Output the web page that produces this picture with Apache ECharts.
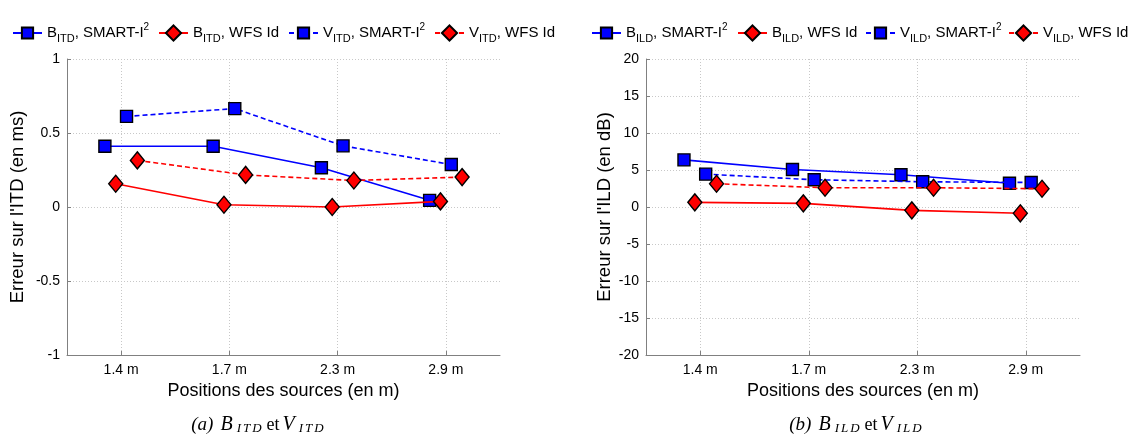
<!DOCTYPE html>
<html><head><meta charset="utf-8">
<script src="https://cdn.jsdelivr.net/npm/echarts@6/dist/echarts.min.js"></script>
<style>html,body{margin:0;padding:0;background:#fff}#c{width:1129px;height:441px}</style>
</head><body><div id="c"></div>
<script>
// ---- data ----
const categories = ['1.4 m', '1.7 m', '2.3 m', '2.9 m'];
const namesITD = ['B_ITD, SMART-I^2', 'B_ITD, WFS Id', 'V_ITD, SMART-I^2', 'V_ITD, WFS Id'];
const namesILD = ['B_ILD, SMART-I^2', 'B_ILD, WFS Id', 'V_ILD, SMART-I^2', 'V_ILD, WFS Id'];
const itdBSmart = [0.41, 0.41, 0.265, 0.045];
const itdBWfs   = [0.157, 0.015, 0.0, 0.038];
const itdVSmart = [0.612, 0.665, 0.413, 0.287];
const itdVWfs   = [0.315, 0.217, 0.179, 0.202];
const ildBSmart = [6.37, 5.07, 4.35, 3.2];
const ildBWfs   = [0.63, 0.49, -0.45, -0.85];
const ildVSmart = [4.44, 3.68, 3.41, 3.32];
const ildVWfs   = [3.14, 2.6, 2.6, 2.47];
const itdTicks = [-1, -0.5, 0, 0.5, 1];
const ildTicks = [-20, -15, -10, -5, 0, 5, 10, 15, 20];

// ---- layout / style ----
const OFFSETS = [-0.15, -0.05, 0.05, 0.15];
const LEGEND_LEFT_ITD = [12, 158, 288, 434];
const LEGEND_LEFT_ILD = [591, 737, 865, 1008];
const FONT = '"Liberation Sans", Arial, Helvetica, sans-serif';
const SERIF = '"Liberation Serif", "DejaVu Serif", serif';
const BLUE = '#0000ff', RED = '#ff0000', AXIS = '#808080', GRID = '#c8c8c8';

function pts(values, k) { return values.map((v, i) => [i + 1 + OFFSETS[k], v]); }

function mkSeries(name, values, k, idx) {
  const smart = (k % 2 === 0);
  const dashed = (k >= 2);
  return {
    name: name, type: 'line', xAxisIndex: idx, yAxisIndex: idx,
    data: pts(values, k),
    symbol: smart ? 'rect' : 'diamond',
    symbolSize: smart ? [12, 12] : [14, 17],
    lineStyle: { color: smart ? BLUE : RED, width: 1.6, type: dashed ? [5, 3] : 'solid' },
    itemStyle: { color: smart ? BLUE : RED, borderColor: '#000', borderWidth: 1.4 },
    emphasis: { disabled: true },
    animation: false, z: 3 + k
  };
}

function legendFmt(name) {
  return name.replace(/_(\w+)/, '{sub|$1}').replace(/\^(\w+)/, '{sup|$1}');
}

const legendText = {
  fontFamily: FONT, fontSize: 15, color: '#000', lineHeight: 22,
  rich: {
    sub: { fontFamily: FONT, fontSize: 11, color: '#000', verticalAlign: 'bottom', lineHeight: 22 },
    sup: { fontFamily: FONT, fontSize: 10, color: '#000', verticalAlign: 'top', lineHeight: 22 }
  }
};

function mkLegend(name, k, left) {
  const smart = (k % 2 === 0);
  return {
    data: [name], left: left, top: 22, itemWidth: 29, itemHeight: smart ? 14 : 19,
    padding: 0, formatter: legendFmt, textStyle: legendText, selectedMode: false
  };
}

function xAxisCfg(idx) {
  return {
    type: 'value', gridIndex: idx, min: 0.5, max: 4.5, splitNumber: 4,
    name: 'Positions des sources (en m)', nameLocation: 'middle', nameGap: 24,
    nameTextStyle: { fontFamily: FONT, fontSize: 18, color: '#000' },
    axisLine: { onZero: false, lineStyle: { color: AXIS, width: 1 } },
    axisTick: { inside: true, length: 4, lineStyle: { color: AXIS } },
    axisLabel: {
      fontFamily: FONT, fontSize: 14, color: '#000', margin: 8,
      showMinLabel: false, showMaxLabel: false,
      formatter: function (v) {
        const r = Math.round(v);
        return (Math.abs(v - r) < 1e-6 && r >= 1 && r <= categories.length) ? categories[r - 1] : '';
      }
    },
    splitLine: { show: true, showMinLine: false, showMaxLine: false, lineStyle: { color: GRID, type: [1, 2], width: 1 } }
  };
}

function yAxisCfg(idx, ticks, name, gap) {
  return {
    type: 'value', gridIndex: idx, min: ticks[0], max: ticks[ticks.length - 1],
    interval: ticks[1] - ticks[0],
    name: name, nameLocation: 'middle', nameRotate: 90, nameGap: gap,
    nameTextStyle: { fontFamily: FONT, fontSize: 18.5, color: '#000' },
    axisLine: { show: true, onZero: false, lineStyle: { color: AXIS, width: 1 } },
    axisTick: { show: true, inside: true, length: 4, lineStyle: { color: AXIS } },
    axisLabel: { fontFamily: FONT, fontSize: 14, color: '#000', margin: 7 },
    splitLine: { show: true, lineStyle: { color: GRID, type: [1, 2], width: 1 } }
  };
}

const series = [];
[itdBSmart, itdBWfs, itdVSmart, itdVWfs].forEach((v, k) => series.push(mkSeries(namesITD[k], v, k, 0)));
[ildBSmart, ildBWfs, ildVSmart, ildVWfs].forEach((v, k) => series.push(mkSeries(namesILD[k], v, k, 1)));

const legends = [];
namesITD.forEach((n, k) => legends.push(mkLegend(n, k, LEGEND_LEFT_ITD[k])));
namesILD.forEach((n, k) => legends.push(mkLegend(n, k, LEGEND_LEFT_ILD[k])));

const captionRich = {
  i: { fontFamily: SERIF, fontSize: 19, fontStyle: 'italic', color: '#000', lineHeight: 26, verticalAlign: 'middle', padding: [0, 7, 0, 0] },
  m: { fontFamily: SERIF, fontSize: 20, fontStyle: 'italic', color: '#000', lineHeight: 26, verticalAlign: 'middle', padding: [0, 3, 0, 0] },
  s: { fontFamily: SERIF, fontSize: 13, fontStyle: 'italic', color: '#000', lineHeight: 26, verticalAlign: 'bottom', padding: [0, 1, 3, 1] },
  n: { fontFamily: SERIF, fontSize: 18, color: '#000', lineHeight: 26, verticalAlign: 'middle', padding: [0, 3, 0, 4] }
};
function caption(letter, sub) {
  const s = sub.split('').map(c => '{s|' + c + '}').join('');
  return '{i|(' + letter + ')}{m|B}' + s + '{n|et}{m|V}' + s;
}

const option = {
  backgroundColor: '#fff',
  animation: false,
  grid: [
    { left: 67, top: 59, width: 433, height: 296, containLabel: false },
    { left: 646, top: 59, width: 434, height: 296, containLabel: false }
  ],
  xAxis: [xAxisCfg(0), xAxisCfg(1)],
  yAxis: [yAxisCfg(0, itdTicks, "Erreur sur l'ITD (en ms)", 40), yAxisCfg(1, ildTicks, "Erreur sur l'ILD (en dB)", 32)],
  legend: legends,
  graphic: [
    { type: 'text', silent: true, x: 258, y: 425,
      style: { text: caption('a', 'ITD'), rich: captionRich, align: 'center', verticalAlign: 'middle' } },
    { type: 'text', silent: true, x: 856, y: 425,
      style: { text: caption('b', 'ILD'), rich: captionRich, align: 'center', verticalAlign: 'middle' } }
  ],
  series: series
};
const chart = echarts.init(document.getElementById('c'));
chart.setOption(option);
</script>
</body></html>
